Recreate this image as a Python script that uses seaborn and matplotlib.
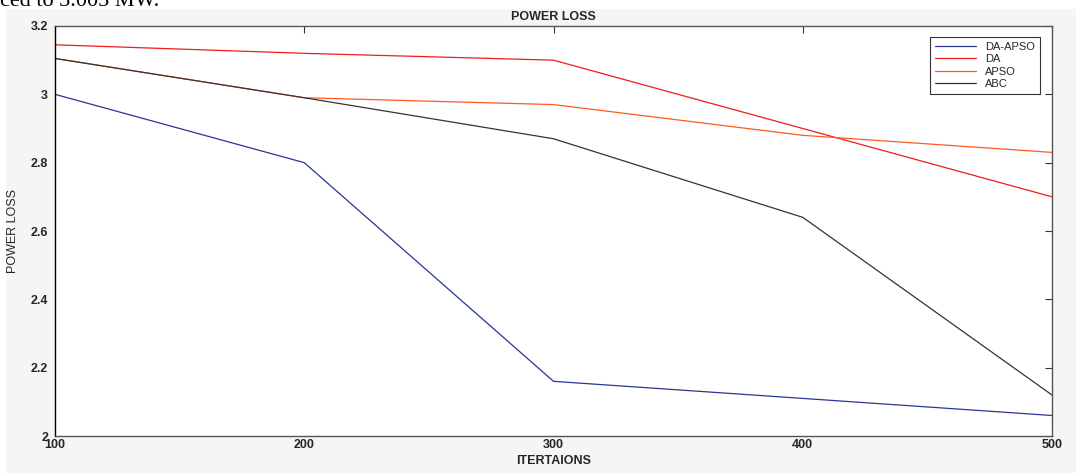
import pandas as pd
import numpy as np
import matplotlib.pyplot as plt
import seaborn as sns
from matplotlib.patches import Rectangle

# --- datos ---
iterations = [100, 200, 300, 400, 500]
da_apso = [3.00, 2.80, 2.16, 2.11, 2.06]
da = [3.145, 3.12, 3.10, 2.90, 2.70]
apso = [3.105, 2.99, 2.97, 2.88, 2.83]
abc = [3.105, 2.99, 2.87, 2.64, 2.12]

methods = ['DA-APSO', 'DA', 'APSO', 'ABC']
colors = ['#2a3592', '#ee1c1c', '#ff5a22', '#333333']

df = pd.DataFrame({
    'iter': iterations * 4,
    'loss': da_apso + da + apso + abc,
    'method': np.repeat(methods, len(iterations)),
})

sns.set_style("white")
plt.rcParams['font.family'] = ['Liberation Sans', 'DejaVu Sans']

fig = plt.figure(figsize=(10.76, 4.73), dpi=100, facecolor='white')
# fondo gris tipo captura de MATLAB
fig.patches.append(Rectangle((6 / 1076, 0), 1, 1 - 9 / 473, transform=fig.transFigure,
                             facecolor='#f5f5f5', edgecolor='none', zorder=-5))
fig.text(0.0, 1 - 6 / 473, 'ced to 3.005 MW.', family='Liberation Serif', fontsize=16,
         va='baseline', ha='left', color='black')

ax = fig.add_axes([55 / 1076, 1 - 436 / 473, (1052 - 55) / 1076, (436 - 26) / 473])
ax.set_facecolor('white')

sns.lineplot(data=df, x='iter', y='loss', hue='method', hue_order=methods,
             palette=colors, linewidth=0.9, ax=ax)

ax.set_xlim(100, 500)
ax.set_ylim(2, 3.2)
ax.set_xticks(iterations)
ax.set_xticklabels([str(i) for i in iterations])
yt = [2.0, 2.2, 2.4, 2.6, 2.8, 3.0, 3.2]
ax.set_yticks(yt)
ax.set_yticklabels(['2', '2.2', '2.4', '2.6', '2.8', '3', '3.2'])

ax.tick_params(direction='in', top=True, right=True, length=5, width=0.8,
               color='#333333', labelsize=9)
ax.tick_params(axis='x', pad=2)
ax.tick_params(axis='y', pad=5)
for lab in ax.get_xticklabels() + ax.get_yticklabels():
    lab.set_fontweight('bold')

for s in ax.spines.values():
    s.set_color('#555555')
    s.set_linewidth(1.0)
ax.spines['left'].set_color('black')

ax.set_title('POWER LOSS', fontsize=9, fontweight='bold', pad=4)
ax.set_xlabel('ITERTAIONS', fontsize=9, fontweight='bold', labelpad=3)
ax.set_ylabel('POWER LOSS', fontsize=9, labelpad=8)

leg = ax.legend(loc='upper right', bbox_to_anchor=(0.988, 0.973), borderaxespad=0,
                fontsize=8, frameon=True, fancybox=False, edgecolor='#333333',
                framealpha=1, handlelength=3.7, labelspacing=0.2, borderpad=0.45,
                title=None)
leg.get_frame().set_linewidth(0.8)

fig.savefig('out.png', dpi=100, facecolor=fig.get_facecolor())
